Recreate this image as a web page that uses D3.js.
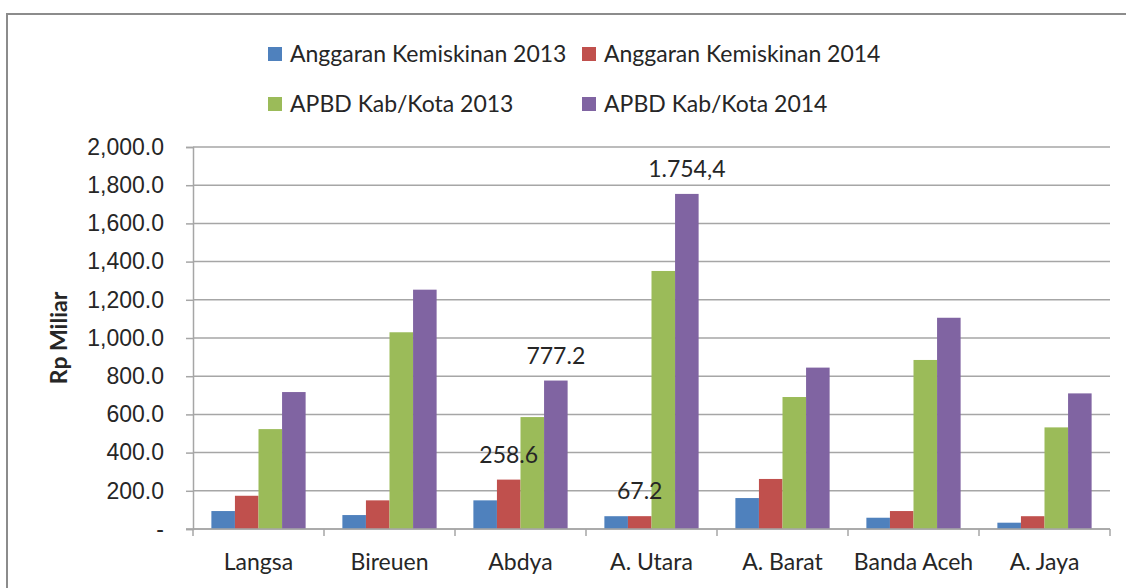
<!DOCTYPE html>
<html>
<head>
<meta charset="utf-8">
<script src="https://cdn.jsdelivr.net/npm/d3@7"></script>
<style>
  html, body { margin: 0; padding: 0; background: #fff; }
  svg { display: block; font-family: Lato, "Open Sans", sans-serif; }
</style>
</head>
<body>
<svg id="chart" width="1126" height="588"></svg>
<script>
// Anggaran kemiskinan vs APBD Kab/Kota, 2013–2014 (Rp miliar)

const categories = ["Langsa", "Bireuen", "Abdya", "A. Utara", "A. Barat", "Banda Aceh", "A. Jaya"];

const seriesNames = [
  "Anggaran Kemiskinan 2013",
  "Anggaran Kemiskinan 2014",
  "APBD Kab/Kota 2013",
  "APBD Kab/Kota 2014",
];

// valores (estimados, exceto os rotulados)
const anggaran2013 = [94, 73, 150, 67, 162, 59, 33];
const anggaran2014 = [174, 150, 258.6, 67.2, 262, 94, 67];
const apbd2013     = [523, 1030, 586, 1351, 691, 885, 532];
const apbd2014     = [717, 1253, 777.2, 1754.4, 845, 1106, 710];

const seriesColors = ["#4f81bd", "#c0504d", "#9bbb59", "#8064a2"];

const yTickValues = [0, 200, 400, 600, 800, 1000, 1200, 1400, 1600, 1800, 2000];
const yTickLabels = ["-", "200.0", "400.0", "600.0", "800.0", "1,000.0", "1,200.0",
                     "1,400.0", "1,600.0", "1,800.0", "2,000.0"];

// rótulos de dados que aparecem no gráfico original
const dataLabels = [
  { category: "Abdya",    series: 1, text: "258.6" },
  { category: "Abdya",    series: 3, text: "777.2" },
  { category: "A. Utara", series: 1, text: "67.2" },
  { category: "A. Utara", series: 3, text: "1.754,4" },
];

const allSeries = [anggaran2013, anggaran2014, apbd2013, apbd2014];

const svg = d3.select("#chart");
const plot = { left: 193, right: 1110, top: 147, bottom: 529 };
const textCol = "#262626";
const gridCol = "#a6a6a6";

// moldura externa (só topo e esquerda aparecem no recorte)
svg.append("rect")
  .attr("x", 7).attr("y", 14).attr("width", 1200).attr("height", 700)
  .attr("fill", "none").attr("stroke", "#8c8c8c").attr("stroke-width", 2);

const x0 = d3.scaleBand().domain(categories).range([plot.left, plot.right]).padding(0);
const x1 = d3.scaleBand().domain(d3.range(seriesNames.length))
  .range([0, x0.bandwidth()]).paddingInner(0).paddingOuter(0.78);
const y = d3.scaleLinear().domain([0, 2000]).range([plot.bottom, plot.top]);

// grade + eixo y
const yAxis = svg.append("g")
  .attr("transform", `translate(${plot.left},0)`)
  .call(d3.axisLeft(y).tickValues(yTickValues)
    .tickSize(7).tickPadding(22)
    .tickFormat((d, i) => yTickLabels[i]));
yAxis.select(".domain").attr("stroke", gridCol).attr("stroke-width", 1.5);
yAxis.selectAll(".tick line").attr("stroke", gridCol).attr("stroke-width", 1.5);
yAxis.selectAll(".tick text")
  .style("font-size", "23px").attr("fill", textCol);

svg.append("g").selectAll("line").data(yTickValues).join("line")
  .attr("x1", plot.left).attr("x2", plot.right)
  .attr("y1", (d) => y(d)).attr("y2", (d) => y(d))
  .attr("stroke", gridCol).attr("stroke-width", 1.5);

// barras
const groups = svg.append("g").selectAll("g").data(categories).join("g")
  .attr("transform", (c) => `translate(${x0(c)},0)`);

groups.selectAll("rect")
  .data((c, ci) => allSeries.map((s, si) => ({ si, v: s[ci] })))
  .join("rect")
  .attr("x", (d) => x1(d.si))
  .attr("width", x1.bandwidth())
  .attr("y", (d) => y(d.v))
  .attr("height", (d) => y(0) - y(d.v))
  .attr("fill", (d) => seriesColors[d.si]);

// eixo x
const xAxis = svg.append("g")
  .attr("transform", `translate(0,${plot.bottom})`);
xAxis.append("line")
  .attr("x1", plot.left - 7).attr("x2", plot.right)
  .attr("stroke", gridCol).attr("stroke-width", 1.5);
xAxis.selectAll(".tk").data(categories.concat([null])).join("line")
  .attr("class", "tk")
  .attr("x1", (c, i) => plot.left + i * x0.step())
  .attr("x2", (c, i) => plot.left + i * x0.step())
  .attr("y1", 0).attr("y2", 7)
  .attr("stroke", gridCol).attr("stroke-width", 1.5);
xAxis.selectAll("text").data(categories).join("text")
  .attr("x", (c) => x0(c) + x0.bandwidth() / 2)
  .attr("y", 33)
  .attr("dy", "0.35em")
  .attr("text-anchor", "middle")
  .style("font-size", "23px").attr("fill", textCol)
  .text((c) => c);

// título do eixo y
svg.append("text")
  .attr("transform", `translate(59,${(plot.top + plot.bottom) / 2}) rotate(-90)`)
  .attr("text-anchor", "middle").attr("dy", "0.35em")
  .style("font-size", "23px").style("font-weight", "bold").attr("fill", textCol)
  .text("Rp Miliar");

// rótulos de dados
svg.append("g").selectAll("text").data(dataLabels).join("text")
  .attr("x", (d) => x0(d.category) + x1(d.series) + x1.bandwidth() / 2)
  .attr("y", (d) => y(allSeries[d.series][categories.indexOf(d.category)]) - 25)
  .attr("dy", "0.35em")
  .attr("text-anchor", "middle")
  .style("font-size", "23px").attr("fill", textCol)
  .text((d) => d.text);

// legenda em duas linhas
const legendPos = [
  { x: 268, y: 54 }, { x: 582, y: 54 },
  { x: 268, y: 104 }, { x: 582, y: 104 },
];
const legend = svg.append("g").selectAll("g").data(seriesNames).join("g")
  .attr("transform", (d, i) => `translate(${legendPos[i].x},${legendPos[i].y})`);
legend.append("rect")
  .attr("x", 0).attr("y", -7).attr("width", 14).attr("height", 14)
  .attr("fill", (d, i) => seriesColors[i]);
legend.append("text")
  .attr("x", 22).attr("dy", "0.35em")
  .style("font-size", "23px").attr("fill", textCol)
  .text((d) => d);
</script>
</body>
</html>
